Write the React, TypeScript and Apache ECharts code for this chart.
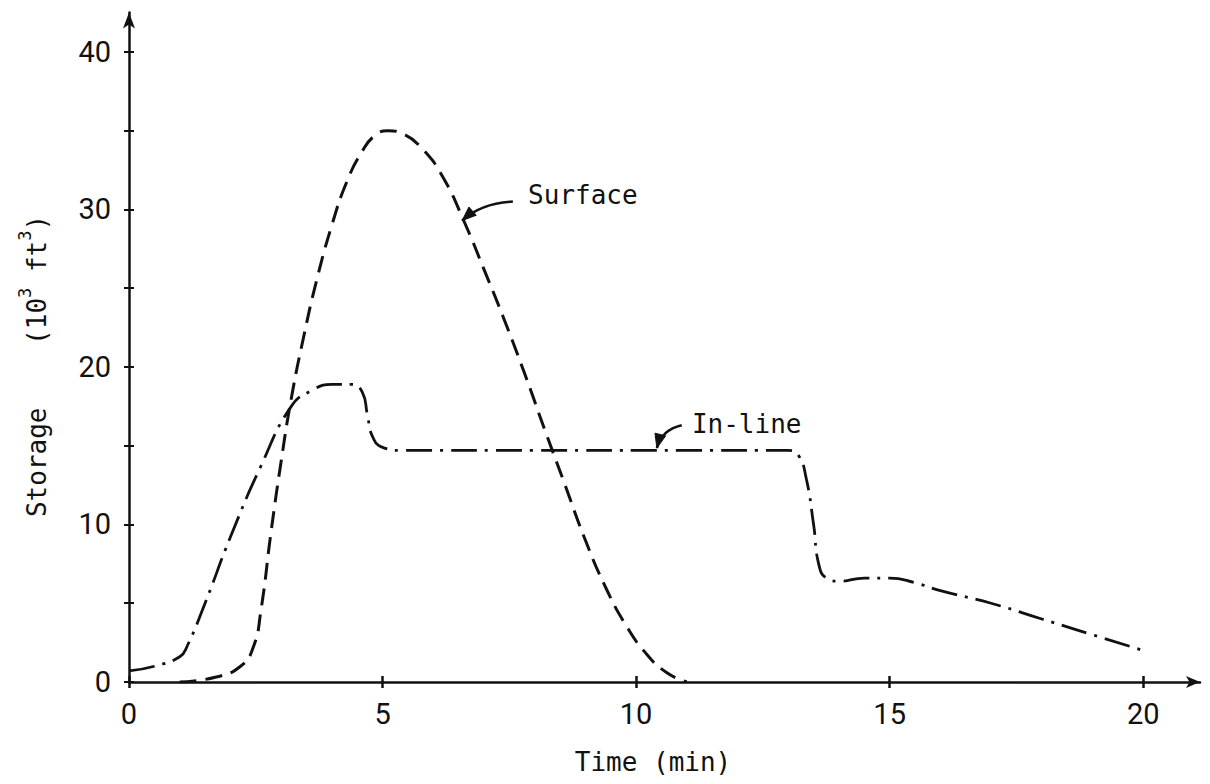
import React, { useEffect, useRef } from "react";
import * as echarts from "echarts";

// Surface storage (dashed curve), time in min, storage in 10^3 ft^3
const surfaceTime = [1.0, 1.7, 2.2, 2.45, 2.6, 2.8, 3.0, 3.2, 3.45, 3.7, 4.0, 4.3, 4.6, 4.85, 5.1, 5.4, 5.8, 6.2, 6.6, 7.0, 7.4, 7.8, 8.2, 8.6, 9.0, 9.4, 9.8, 10.2, 10.6, 11.0];
const surfaceStorage = [0, 0.3, 1.0, 2.2, 4.5, 9.5, 14, 18, 22, 25.5, 29, 31.8, 33.7, 34.7, 35, 34.8, 33.8, 32, 29.3, 26.2, 23, 19.6, 16, 12.5, 9, 6, 3.6, 1.8, 0.6, 0];

// In-line storage (dash-dot curve)
const inlineTime = [0, 0.5, 1.0, 1.15, 1.5, 2.0, 2.6, 3.2, 3.6, 4.0, 4.4, 4.6, 4.7, 4.8, 5.0, 5.4, 8.0, 11.0, 13.0, 13.2, 13.35, 13.5, 13.6, 13.75, 14.0, 14.5, 15.0, 15.5, 16.0, 17.0, 18.0, 19.0, 20.0];
const inlineStorage = [0.7, 1.0, 1.6, 2.3, 5.0, 9.2, 13.7, 17.5, 18.5, 18.9, 18.9, 18.4, 17, 15.6, 14.9, 14.7, 14.7, 14.7, 14.7, 14.4, 13, 10, 7.5, 6.6, 6.4, 6.6, 6.6, 6.3, 5.8, 5.0, 4.0, 3.0, 2.0];

const xTicks = [0, 5, 10, 15, 20];
const yTicks = [0, 5, 10, 15, 20, 25, 30, 35, 40];
const yLabels = [0, 10, 20, 30, 40];

// annotation anchors in data coordinates [time, storage]
const surfaceNote = { text: "Surface", at: [7.87, 30.9], tip: [6.57, 29.3], tail: [7.57, 30.5], ctrl: [6.95, 30.4] };
const inlineNote = { text: "In-line", at: [11.1, 16.4], tip: [10.41, 14.85], tail: [10.9, 16.3], ctrl: [10.5, 16.0] };

const INK = "#111";
const MONO = '"DejaVu Sans Mono", monospace';
const NUM = '"Liberation Sans Narrow", Roboto, sans-serif';

export default function App() {
  const ref = useRef<HTMLDivElement>(null);
  useEffect(() => {
    const chart = echarts.init(ref.current!, null, { renderer: "svg" });
    const xMax = 21.12;
    const yMax = 42.5;
    const baseX = {
      type: "value",
      min: 0,
      max: xMax,
      splitLine: { show: false },
    };
    const baseY = {
      type: "value",
      min: 0,
      max: yMax,
      splitLine: { show: false },
    };
    chart.setOption({
      animation: false,
      backgroundColor: "#fff",
      grid: { left: 129, right: 10, top: 12.6, bottom: 102, containLabel: false },
      xAxis: [
        {
          ...baseX,
          axisLine: {
            show: true,
            lineStyle: { color: INK, width: 2.5 },
            symbol: ["none", "arrow"],
            symbolSize: [9, 14],
          },
          axisTick: { show: true, inside: false, length: 6, lineStyle: { color: INK, width: 2.5 }, customValues: xTicks },
          axisLabel: {
            show: true,
            customValues: xTicks,
            margin: 17,
            color: INK,
            fontFamily: NUM,
            fontSize: 29,
            lineHeight: 29,
          },
        },
        {
          ...baseX,
          position: "bottom",
          axisLine: { show: false },
          axisTick: { show: true, inside: true, length: 6, lineStyle: { color: INK, width: 2.5 }, customValues: xTicks },
          axisLabel: { show: false },
        },
      ],
      yAxis: [
        {
          ...baseY,
          axisLine: {
            show: true,
            lineStyle: { color: INK, width: 2.5 },
            symbol: ["none", "arrow"],
            symbolSize: [9, 16],
          },
          axisTick: { show: true, inside: false, length: 5, lineStyle: { color: INK, width: 2 }, customValues: yTicks },
          axisLabel: {
            show: true,
            customValues: yLabels,
            margin: 18,
            color: INK,
            fontFamily: NUM,
            fontSize: 29,
            lineHeight: 29,
          },
        },
        {
          ...baseY,
          position: "left",
          axisLine: { show: false },
          axisTick: { show: true, inside: true, length: 5, lineStyle: { color: INK, width: 2 }, customValues: yTicks },
          axisLabel: { show: false },
        },
      ],
      series: [
        {
          type: "line",
          name: "Surface",
          xAxisIndex: 0,
          yAxisIndex: 0,
          data: surfaceTime.map((t, i) => [t, surfaceStorage[i]]),
          showSymbol: false,
          smooth: 0.5,
          lineStyle: { color: INK, width: 3, type: [17, 9] },
        },
        {
          type: "line",
          name: "In-line",
          xAxisIndex: 0,
          yAxisIndex: 0,
          data: inlineTime.map((t, i) => [t, inlineStorage[i]]),
          showSymbol: false,
          smooth: 0.5,
          lineStyle: { color: INK, width: 2.8, type: [26, 8, 3, 8] },
        },
      ],
    });

    const px = (p: number[]) => chart.convertToPixel({ gridIndex: 0 }, p) as number[];
    const arrowHead = (tip: number[], from: number[], len: number, half: number) => {
      const dx = tip[0] - from[0];
      const dy = tip[1] - from[1];
      const d = Math.hypot(dx, dy) || 1;
      const ux = dx / d, uy = dy / d;
      const bx = tip[0] - ux * len, by = tip[1] - uy * len;
      return [tip, [bx - uy * half, by + ux * half], [bx + uy * half, by - ux * half]];
    };
    const noteGraphics = (n: typeof surfaceNote) => {
      const at = px(n.at), tip = px(n.tip), tail = px(n.tail), c = px(n.ctrl);
      return [
        {
          type: "text",
          x: at[0],
          y: at[1],
          style: { text: n.text, fill: INK, font: `26px ${MONO}`, align: "left", verticalAlign: "middle" },
        },
        {
          type: "bezierCurve",
          shape: { x1: tail[0], y1: tail[1], cpx1: c[0], cpy1: c[1], x2: tip[0], y2: tip[1] },
          style: { stroke: INK, lineWidth: 2.5, fill: "none" },
        },
        {
          type: "polygon",
          shape: { points: arrowHead(tip, c, 14, 5.5) },
          style: { fill: INK, stroke: INK, lineWidth: 1 },
        },
      ];
    };

    chart.setOption({
      graphic: [
        {
          type: "text",
          x: 33,
          y: 366,
          rotation: Math.PI / 2,
          style: {
            text: "{n|Storage    (10}{s|3}{n| ft}{s|3}{n|)}",
            fill: INK,
            align: "center",
            verticalAlign: "middle",
            rich: {
              n: { fontFamily: MONO, fontSize: 26, lineHeight: 34, fill: INK, verticalAlign: "bottom" },
              s: { fontFamily: MONO, fontSize: 17, lineHeight: 34, fill: INK, verticalAlign: "top" },
            },
          },
        },
        {
          type: "text",
          x: 653,
          y: 762,
          style: { text: "Time (min)", fill: INK, font: `26px ${MONO}`, align: "center", verticalAlign: "middle" },
        },
        ...noteGraphics(surfaceNote),
        ...noteGraphics(inlineNote),
      ],
    });
    return () => chart.dispose();
  }, []);
  return (
    <div
      ref={ref}
      style={{ position: "absolute", left: 0, top: 0, width: 1210, height: 784, background: "#fff" }}
    />
  );
}
